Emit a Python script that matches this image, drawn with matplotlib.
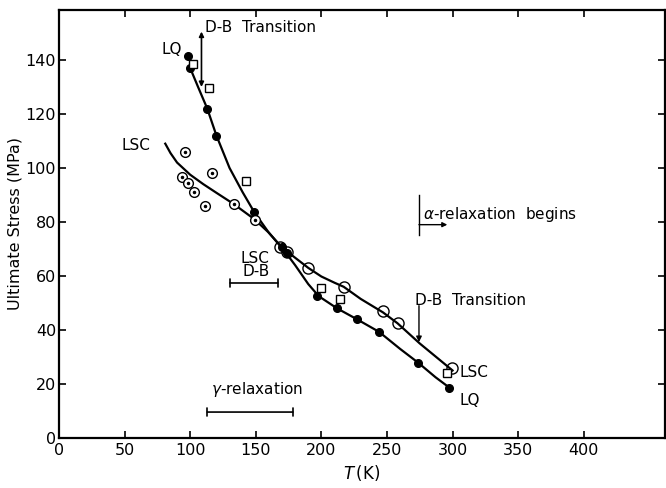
import numpy as np
import matplotlib.pyplot as plt

# Ultimate stress vs temperature, LQ and LSC samples
# filled circles: LQ
lq_T = [98, 100, 113, 120, 149, 170, 174, 197, 212, 227, 244, 274, 297]
lq_S = [141.5, 137, 122, 112, 83.7, 70.7, 68.5, 52.6, 48, 44, 39.3, 27.8, 18.5]

# dotted circles: LSC (low temperature)
lsc_dot_T = [96, 93.6, 98.3, 103, 111.3, 117, 133.4, 149.4]
lsc_dot_S = [106, 96.7, 94.4, 91, 86, 98, 86.7, 80.7]

# open circles: LSC
lsc_T = [168.4, 174, 190, 217, 247, 258.4, 299.5]
lsc_S = [70.7, 69, 63, 56, 47, 42.6, 26]

# open squares
sq_T = [102, 114, 142.5, 199.4, 214, 296]
sq_S = [138.5, 129.6, 95, 55.5, 51.5, 24]

# hand drawn curves through the data
lq_curve_T = [100, 106, 113, 120, 130, 140, 149, 160, 170, 180, 190, 198, 212, 227, 244, 260, 274, 287, 298]
lq_curve_S = [137, 130, 122, 112, 100, 91, 83.5, 76, 70.5, 64, 57, 52.5, 48, 44, 39.3, 33, 27.8, 22.5, 18.5]
lsc_curve_T = [81, 85, 90, 100, 110, 120, 133, 149, 160, 168, 174, 182, 190, 200, 210, 217, 230, 247, 258, 275, 290, 300]
lsc_curve_S = [109, 105.5, 102, 97.5, 94, 90.8, 86.7, 81, 76, 71.5, 69, 66, 63, 59.8, 57.5, 56, 51.5, 46.5, 42.5, 35, 29, 25]

xticks = [0, 50, 100, 150, 200, 250, 300, 350, 400]
yticks = [0, 20, 40, 60, 80, 100, 120, 140]

fig = plt.figure(figsize=(6.66, 4.88), dpi=100)
ax = fig.add_axes([0.0886, 0.1025, 0.91, 0.877])
ax.set_xlim(0, 462)
ax.set_ylim(0, 158.5)

ax.plot(lq_curve_T, lq_curve_S, color='black', lw=1.6)
ax.plot(lsc_curve_T, lsc_curve_S, color='black', lw=1.6)

ax.plot(lq_T, lq_S, 'o', color='black', ms=5.5)
ax.plot(lsc_dot_T, lsc_dot_S, 'o', mfc='white', mec='black', mew=1.0, ms=7)
ax.plot(lsc_dot_T, lsc_dot_S, 'o', color='black', ms=1.5)
ax.plot(lsc_T, lsc_S, 'o', mfc='none', mec='black', mew=1.0, ms=8)
ax.plot(sq_T, sq_S, 's', mfc='white', mec='black', mew=1.0, ms=6)

fs = 11
ax.text(78, 144, 'LQ', fontsize=fs, va='center')
ax.text(48, 108.5, 'LSC', fontsize=fs, va='center')
ax.text(305, 24.4, 'LSC', fontsize=fs, va='center')
ax.text(305, 14, 'LQ', fontsize=fs, va='center')

# D-B transition, LQ
ax.text(111, 152, 'D-B  Transition', fontsize=fs, va='center')
ax.annotate('', xy=(108.6, 150.5), xytext=(108.6, 130),
            arrowprops=dict(arrowstyle='<|-|>', color='black', lw=1.2,
                            mutation_scale=7, shrinkA=0, shrinkB=0))

# D-B transition, LSC
ax.text(271, 51, 'D-B  Transition', fontsize=fs, va='center')
ax.annotate('', xy=(274.4, 35.5), xytext=(274.4, 49),
            arrowprops=dict(arrowstyle='-|>', color='black', lw=1.0,
                            mutation_scale=8, shrinkA=0, shrinkB=0))

# LSC D-B range
ax.text(149, 66.5, 'LSC', fontsize=fs, ha='center', va='center')
ax.text(150, 61.5, 'D-B', fontsize=fs, ha='center', va='center')
ax.annotate('', xy=(130.3, 57.4), xytext=(166.9, 57.4),
            arrowprops=dict(arrowstyle='|-|', color='black', lw=1.2,
                            mutation_scale=3, shrinkA=0, shrinkB=0))

# gamma relaxation range
ax.text(151, 17.8, r'$\gamma$-relaxation', fontsize=fs, ha='center', va='center')
ax.annotate('', xy=(113, 9.6), xytext=(178.3, 9.6),
            arrowprops=dict(arrowstyle='|-|', color='black', lw=1.2,
                            mutation_scale=3, shrinkA=0, shrinkB=0))

# alpha relaxation onset
ax.text(277.4, 82.6, r'$\alpha$-relaxation  begins', fontsize=fs, va='center')
ax.plot([274.4, 274.4], [75, 90], color='black', lw=1.0)
ax.annotate('', xy=(296, 79), xytext=(274.4, 79),
            arrowprops=dict(arrowstyle='-|>', color='black', lw=1.0,
                            mutation_scale=7, shrinkA=0, shrinkB=0))

ax.set_xticks(xticks)
ax.set_yticks(yticks)
ax.tick_params(direction='in', length=5, width=1.2, labelsize=11.5,
               top=True, right=True)
ax.tick_params(axis='y', pad=2)
for s in ax.spines.values():
    s.set_linewidth(1.6)

ax.set_xlabel(r'$T\,$(K)', fontsize=12, labelpad=4)
ax.set_ylabel('Ultimate Stress (MPa)', fontsize=11.5, labelpad=2)

fig.savefig('out.png', dpi=100)
